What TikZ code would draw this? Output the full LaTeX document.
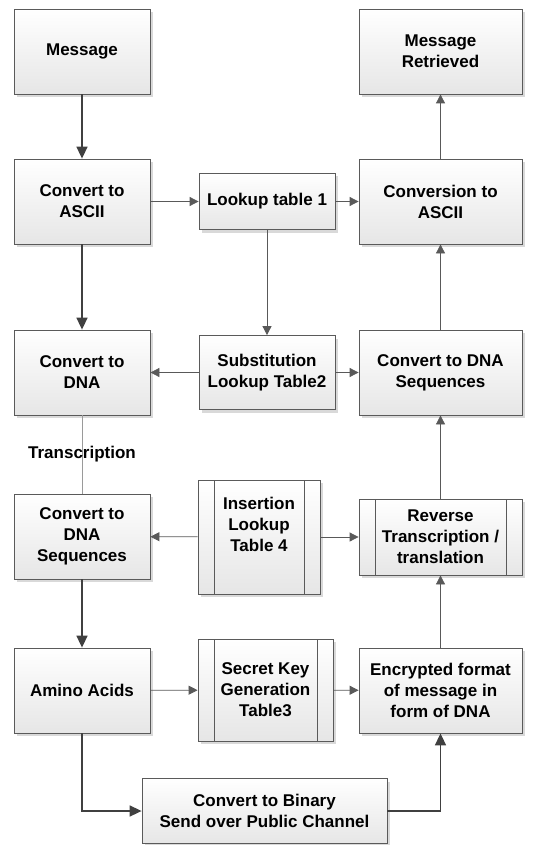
\documentclass[tikz,border=0pt]{standalone}
\usepackage{fontspec}
\setmainfont{Liberation Sans}
\usetikzlibrary{positioning, arrows.meta, shadows}
\definecolor{boxline}{HTML}{5A5A5A}
\definecolor{boxtop}{HTML}{FFFFFF}
\definecolor{boxbottom}{HTML}{E6E6E6}
\definecolor{flowdark}{HTML}{404040}
\definecolor{flowgray}{HTML}{595959}
\definecolor{flowlight}{HTML}{9A9A9A}

\begin{document}
\begin{tikzpicture}[x=1pt, y=-1pt,
    every node/.style={font=\fontsize{17}{21}\selectfont\bfseries, align=center, text=black},
    block/.style={draw=boxline, line width=0.8pt, top color=boxtop, bottom color=boxbottom, inner sep=0pt,
      drop shadow={shadow xshift=3pt, shadow yshift=-3pt, fill=black!15, opacity=1}},
    tablebox/.style={block, path picture={
      \draw[boxline, line width=0.8pt]
        ([xshift=16pt]path picture bounding box.north west) -- ([xshift=16pt]path picture bounding box.south west)
        ([xshift=-16pt]path picture bounding box.north east) -- ([xshift=-16pt]path picture bounding box.south east);}},
    flow/.style={draw=flowgray, line width=0.8pt, -{Triangle[length=9pt, width=9pt]}},
    mainflow/.style={draw=flowdark, line width=1.6pt, -{Triangle[length=12pt, width=11pt]}}]
  \useasboundingbox (0,0) rectangle (546,845);
  \node[block, minimum width=136pt, minimum height=85pt] (msg) at (82,51.5) {Message};
  \node[block, minimum width=163pt, minimum height=85pt] (ret) at (440.5,51.5) {Message\\Retrieved};
  \node[block, minimum width=136pt, minimum height=85pt] (asc) at (82,201.5) {Convert to\\ASCII};
  \node[block, minimum width=136pt, minimum height=56pt] (lk1) at (267,201.5) {Lookup table 1};
  \node[block, minimum width=163pt, minimum height=85pt] (cva) at (440.5,201.5) {Conversion to\\ASCII};
  \node[block, minimum width=136pt, minimum height=85pt] (dna) at (82,372.5) {Convert to\\DNA};
  \node[block, minimum width=136pt, minimum height=74pt] (sub) at (267,372.5) {Substitution\\Lookup Table2};
  \node[block, minimum width=163pt, minimum height=85pt] (cds) at (440.5,372.5) {Convert to DNA\\Sequences};
  \node[block, minimum width=136pt, minimum height=85pt] (seq) at (82,536.5) {Convert to\\DNA\\Sequences};
  \node[tablebox, minimum width=122pt, minimum height=114pt, text depth=26pt] (ins) at (259,537) {Insertion\\Lookup\\Table 4};
  \node[tablebox, minimum width=163pt, minimum height=76pt] (rev) at (440.5,537) {Reverse\\Transcription /\\translation};
  \node[block, minimum width=136pt, minimum height=85pt] (ami) at (82,690.5) {Amino Acids};
  \node[tablebox, minimum width=135pt, minimum height=102pt] (key) at (265.5,690) {Secret Key\\Generation\\Table3};
  \node[block, minimum width=163pt, minimum height=85pt] (enc) at (440.5,690.5) {Encrypted format\\of message in\\form of DNA};
  \node[block, minimum width=245pt, minimum height=65pt] (bin) at (264.5,811) {Convert to Binary\\Send over Public Channel};
  \draw[mainflow] (msg) -- (asc);
  \draw[flow] (asc) -- (lk1);
  \draw[flow] (lk1) -- (cva);
  \draw[flow] (cva) -- (ret);
  \draw[mainflow] (asc) -- (dna);
  \draw[flow] (lk1) -- (sub);
  \draw[flow] (sub) -- (dna);
  \draw[flow] (sub) -- (cds);
  \draw[flow] (cds) -- (cva);
  \draw[flowlight, line width=0.8pt] (dna) -- (seq) node[midway] (trn) {Transcription};
  \draw[flow] (ins) -- (seq);
  \draw[flow] (ins) -- (rev);
  \draw[flow] (rev) -- (cds);
  \draw[mainflow] (seq) -- (ami);
  \draw[flow] (ami) -- (key);
  \draw[flow] (key) -- (enc);
  \draw[flow] (enc) -- (rev);
  \draw[mainflow] (ami) |- (bin);
  \draw[mainflow] (bin) -| (enc);
\end{tikzpicture}
\end{document}
